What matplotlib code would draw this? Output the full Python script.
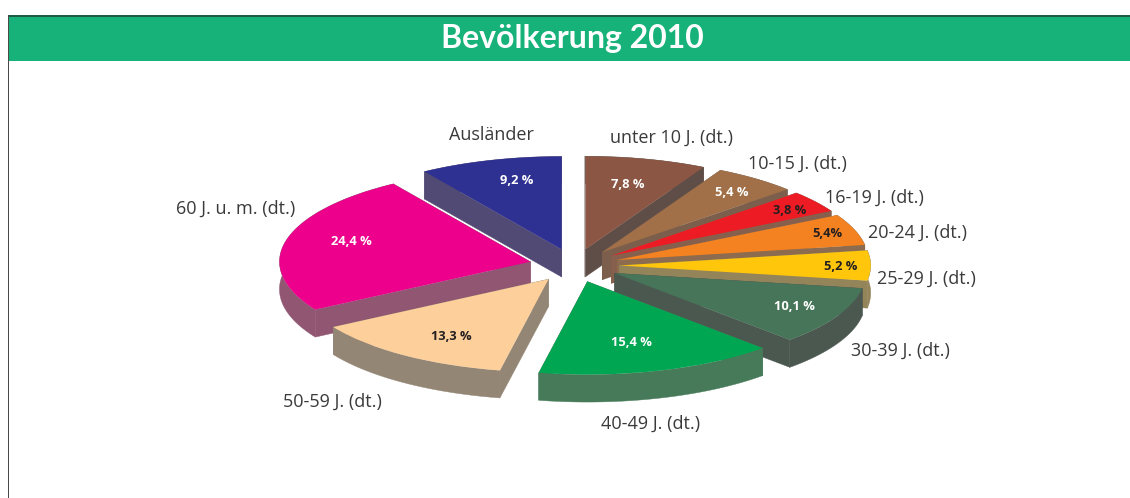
import numpy as np
import matplotlib
matplotlib.use("Agg")
import matplotlib.pyplot as plt
from matplotlib.collections import PolyCollection
from matplotlib.patches import Rectangle

categories = ["unter 10 J. (dt.)", "10-15 J. (dt.)", "16-19 J. (dt.)", "20-24 J. (dt.)",
              "25-29 J. (dt.)", "30-39 J. (dt.)", "40-49 J. (dt.)", "50-59 J. (dt.)",
              "60 J. u. m. (dt.)", "Ausländer"]
values = [7.8, 5.4, 3.8, 5.4, 5.2, 10.1, 15.4, 13.3, 24.4, 9.2]
value_labels = ["7,8 %", "5,4 %", "3,8 %", "5,4%", "5,2 %", "10,1 %", "15,4 %", "13,3 %", "24,4 %", "9,2 %"]
title = "Bevölkerung 2010"

top_colors = ["#8B5744", "#A17048", "#ED1C24", "#F58220", "#FFC60B",
              "#477559", "#00A651", "#FDCF9B", "#EC008C", "#2E3192"]
side_colors = ["#5F4D47", "#7B5F4C", "#86604C", "#8C6B4E", "#93845A",
               "#4B584F", "#477A59", "#948675", "#905672", "#514A74"]
value_colors = ["white", "white", "#231F20", "#231F20", "#231F20",
                "white", "white", "#231F20", "white", "white"]
label_px = [(672, 138), (797, 164), (874, 198), (918, 233), (926, 279),
            (900, 351), (651, 424), (332, 402), (236, 209), (491, 135)]
value_px = [(628, 184), (732, 193), (790, 211), (827, 233), (841, 267),
            (794, 307), (631, 342), (451, 336), (351, 241), (517, 180)]
draw_order = [0, 1, 2, 3, 4, 9, 8, 5, 7, 6]

W, H = 1130, 498
CX, CY, RX, RY, DEPTH, SPAN = 574.5, 265.5, 251, 93, 27.5, 1.6

plt.rcParams["font.family"] = ["Open Sans", "DejaVu Sans"]
fig = plt.figure(figsize=(W / 100, H / 100), dpi=100, facecolor="white")

bg = fig.add_axes([0, 0, 1, 1])
bg.set_xlim(0, W)
bg.set_ylim(H, 0)
bg.axis("off")
bg.add_patch(Rectangle((8, 17), W - 8, 44, fc="#16B27A", ec="none"))
bg.add_patch(Rectangle((7.5, 15), W - 7.5, 2, fc="#1F5A47", ec="none"))
bg.add_patch(Rectangle((7.5, 15), 1.6, H - 15, fc="#4A4A4A", ec="none"))
bg.text(572, 38.5, title, color="white", fontsize=23, fontweight="bold",
        family=["Lato", "DejaVu Sans"], ha="center", va="center")

ax = fig.add_axes([(CX - SPAN * RX) / W, 1 - (CY + SPAN * RY) / H,
                   2 * SPAN * RX / W, 2 * SPAN * RY / H])
ax.patch.set_alpha(0)
wedges, _ = ax.pie(values, explode=[0.18] * len(values), startangle=90,
                   counterclock=False, colors=top_colors, radius=1,
                   wedgeprops={"linewidth": 0}, frame=False)
ax.set_aspect("auto")
ax.set_xlim(-SPAN, SPAN)
ax.set_ylim(-SPAN, SPAN)
ax.axis("off")

dz = DEPTH / RY
for rank, i in enumerate(draw_order):
    w = wedges[i]
    w.set_zorder(10 + 2 * rank + 1)
    t = np.radians(np.linspace(w.theta1, w.theta2, 80))
    cx, cy = w.center
    ax_x = cx + w.r * np.cos(t)
    ax_y = cy + w.r * np.sin(t)
    arc = np.column_stack([ax_x, ax_y])
    apex = np.array([cx, cy])
    down = np.array([0, -dz])
    faces = [np.vstack([arc, (arc + down)[::-1]]),
             np.array([apex, arc[0], arc[0] + down, apex + down]),
             np.array([apex, arc[-1], arc[-1] + down, apex + down])]
    ax.add_collection(PolyCollection(faces, facecolors=side_colors[i], edgecolors=side_colors[i],
                                     linewidths=0.3, zorder=10 + 2 * rank))

for name, (x, y) in zip(categories, label_px):
    bg.text(x, y, name, color="#3A3A3C", fontsize=13, ha="center", va="center", zorder=1)
for txt, col, (x, y) in zip(value_labels, value_colors, value_px):
    fig.text(x / W, 1 - y / H, txt, color=col, fontsize=9.3, fontweight="bold",
             ha="center", va="center", zorder=5)

fig.savefig("out.png", dpi=100)
